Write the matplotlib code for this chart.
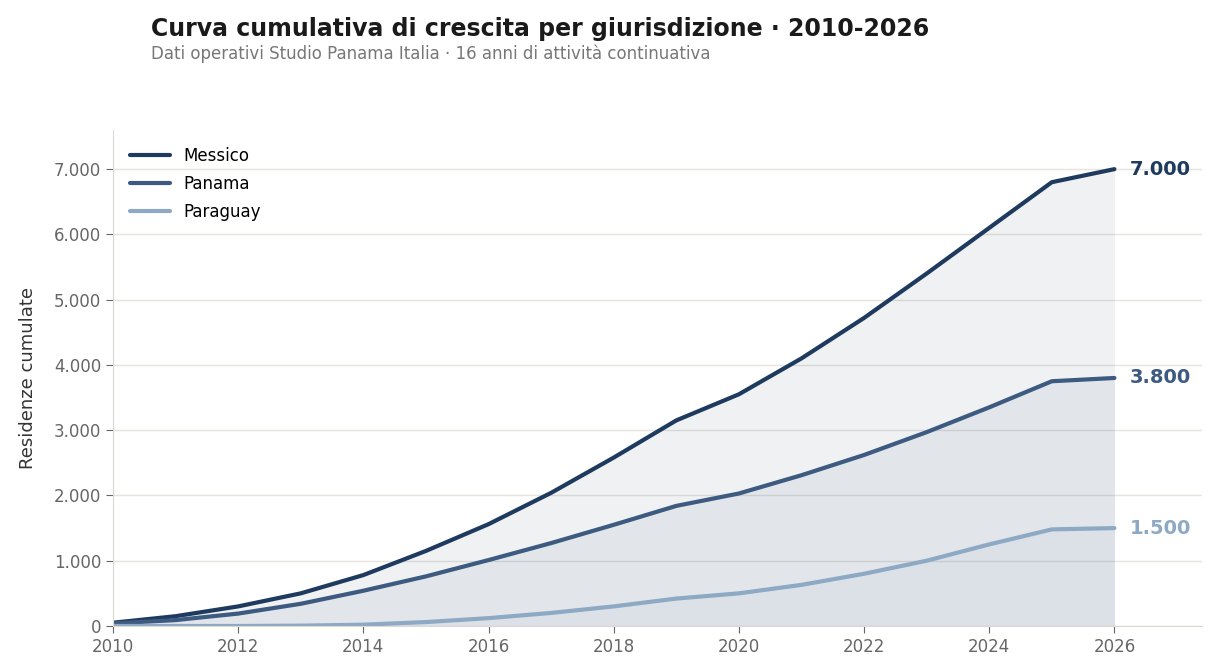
import matplotlib
matplotlib.use("Agg")
import matplotlib.pyplot as plt
from matplotlib.ticker import FuncFormatter, MultipleLocator

years = list(range(2010, 2027))
messico = [50, 150, 300, 500, 780, 1150, 1560, 2040, 2580, 3150, 3550,
           4100, 4720, 5400, 6100, 6800, 7000]
panama = [40, 90, 190, 340, 540, 760, 1010, 1270, 1550, 1840, 2030,
          2310, 2620, 2970, 3350, 3750, 3800]
paraguay = [0, 0, 0, 5, 20, 60, 120, 200, 300, 420, 500,
            630, 800, 1000, 1250, 1480, 1500]

series_names = ["Messico", "Panama", "Paraguay"]
series_values = [messico, panama, paraguay]
colors = ["#1f3a5f", "#3d5a80", "#8da9c4"]

title = "Curva cumulativa di crescita per giurisdizione · 2010-2026"
subtitle = "Dati operativi Studio Panama Italia · 16 anni di attività continuativa"


def fmt_it(v, _=None):
    # thousands separator with a dot, Italian style
    return f"{int(v):,}".replace(",", ".")


fig = plt.figure(figsize=(12.11, 6.70), dpi=100)
ax = fig.add_axes([0.0933, 0.0657, 0.8993, 0.7403])

for name, vals, c in zip(series_names, series_values, colors):
    ax.fill_between(years, vals, 0, color=c, alpha=0.07, linewidth=0)
    ax.plot(years, vals, color=c, lw=3.0, label=name, solid_capstyle="round")
    ax.text(years[-1] + 0.25, vals[-1], fmt_it(vals[-1]),
            color=c, fontsize=14, fontweight="bold", va="center", ha="left")

ax.set_xlim(2010, 2027.4)
ax.set_ylim(0, 7600)
ax.xaxis.set_major_locator(MultipleLocator(2))
ax.yaxis.set_major_locator(MultipleLocator(1000))
ax.yaxis.set_major_formatter(FuncFormatter(fmt_it))

ax.grid(axis="y", color="#e6e4df", lw=1)
ax.set_axisbelow(True)
for s in ["top", "right"]:
    ax.spines[s].set_visible(False)
for s in ["left", "bottom"]:
    ax.spines[s].set_color("#dcd9d2")
ax.tick_params(colors="#666666", labelsize=12, length=5)

ax.set_ylabel("Residenze cumulate", fontsize=13, color="#333333", labelpad=12)

ax.legend(loc="upper left", frameon=False, fontsize=12, handlelength=2.4,
          borderaxespad=0.6, labelspacing=0.6)

fig.text(0.125, 0.956, title, fontsize=17, fontweight="bold", color="#1a1a1a",
         va="center", ha="left")
fig.text(0.125, 0.920, subtitle, fontsize=12, color="#777777",
         va="center", ha="left")

fig.savefig("out.png", dpi=100, facecolor="white")
